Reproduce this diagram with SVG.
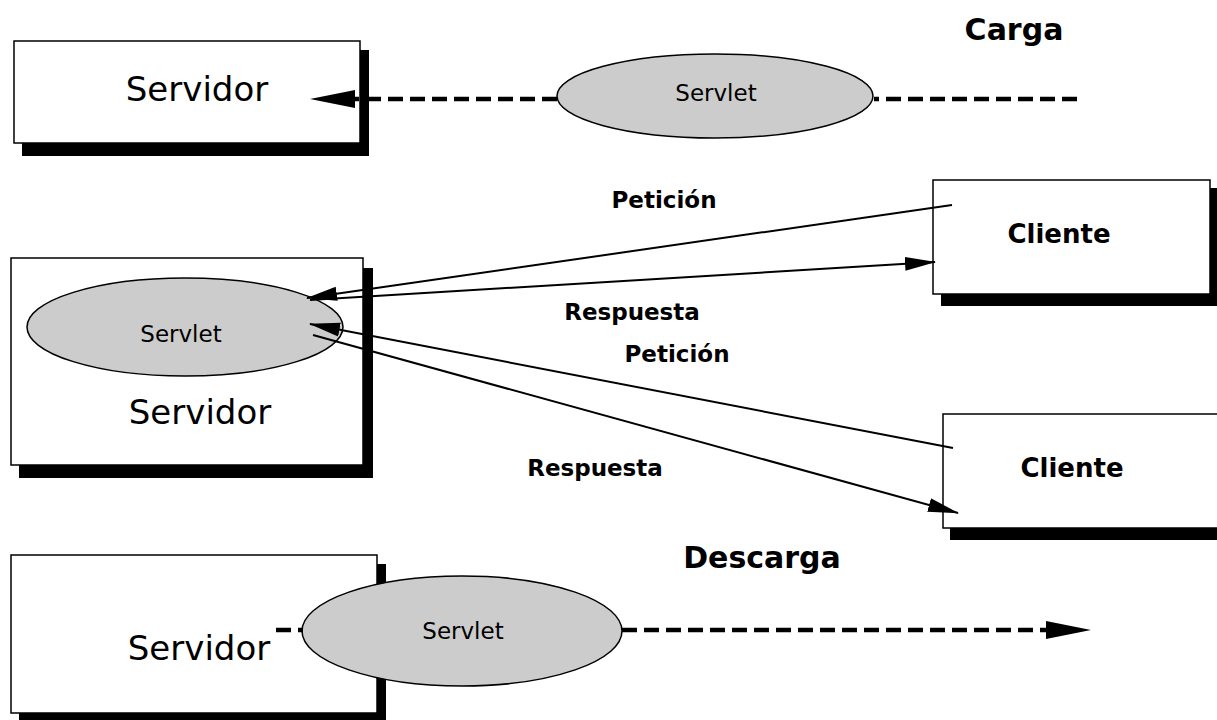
<svg xmlns="http://www.w3.org/2000/svg" width="1217" height="720" viewBox="0 0 1217 720">
<defs>
<style>
.box{fill:#fff;stroke:#000;stroke-width:1.5}
.shadow{fill:#000}
.ell{fill:#cccccc;stroke:#000;stroke-width:1.5}
.big{font-family:"DejaVu Sans","Liberation Sans",sans-serif;font-size:34px;text-anchor:middle;fill:#000}
.sv{font-family:"DejaVu Sans","Liberation Sans",sans-serif;font-size:23px;text-anchor:middle;fill:#000}
.lbl{font-family:"DejaVu Sans","Liberation Sans",sans-serif;font-weight:bold;font-size:23px;text-anchor:middle;fill:#000}
.cl{font-family:"DejaVu Sans","Liberation Sans",sans-serif;font-weight:bold;font-size:26px;text-anchor:middle;fill:#000}
.title{font-family:"DejaVu Sans","Liberation Sans",sans-serif;font-weight:bold;font-size:30px;text-anchor:middle;fill:#000}
.solid{stroke:#000;stroke-width:2;fill:none}
.dash{stroke:#000;stroke-width:4.5;fill:none;stroke-dasharray:15 7}
</style>
<marker id="ah" markerUnits="userSpaceOnUse" markerWidth="32" markerHeight="16" viewBox="0 -7 32 14" refX="30" refY="0" orient="auto">
<path d="M0,-7 L31,0 L0,7 z" fill="#000"/>
</marker>
<marker id="ahd" markerUnits="userSpaceOnUse" markerWidth="46" markerHeight="20" viewBox="0 -10 46 20" refX="0" refY="0" orient="auto">
<path d="M0,-9 L45,0 L0,9 z" fill="#000"/>
</marker>
</defs>
<rect width="1217" height="720" fill="#fff"/>

<g id="servidor-carga">
<rect class="shadow" x="22" y="50" width="347" height="106"/>
<rect class="box" x="14" y="41" width="346" height="102"/>
<text class="big" x="197" y="101">Servidor</text>
</g>

<g id="servidor-central">
<rect class="shadow" x="19" y="268" width="354" height="210"/>
<rect class="box" x="11" y="258" width="352" height="207"/>
<text class="big" x="200" y="424">Servidor</text>
</g>

<g id="servidor-descarga">
<rect class="shadow" x="19" y="564" width="367" height="160"/>
<rect class="box" x="11" y="555" width="366" height="158"/>
<text class="big" x="199" y="660">Servidor</text>
</g>

<g id="cliente-1">
<rect class="shadow" x="941" y="188" width="290" height="118"/>
<rect class="box" x="933" y="180" width="277" height="114"/>
<text class="cl" x="1059" y="243">Cliente</text>
</g>

<g id="cliente-2">
<rect class="shadow" x="950" y="423" width="280" height="117"/>
<rect class="box" x="943" y="414" width="290" height="114"/>
<text class="cl" x="1072" y="477">Cliente</text>
</g>

<g id="servlet-carga">
<ellipse class="ell" cx="715" cy="96" rx="158" ry="42"/>
<text class="sv" x="716" y="101">Servlet</text>
</g>

<g id="servlet-central">
<ellipse class="ell" cx="185" cy="327" rx="158" ry="49"/>
<text class="sv" x="181" y="342">Servlet</text>
</g>

<g id="servlet-descarga">
<ellipse class="ell" cx="462" cy="631" rx="160" ry="55"/>
<text class="sv" x="463" y="639">Servlet</text>
</g>

<g id="titulos">
<text class="title" x="1014" y="40">Carga</text>
<text class="title" x="762" y="568">Descarga</text>
</g>

<g id="connectors">
<path class="dash" d="M1077,99 L874,99"/>
<path class="dash" d="M557,99 L355,99" marker-end="url(#ahd)"/>
<path class="dash" d="M276,630 L303,630"/>
<path class="dash" d="M622,630 L1046,630" marker-end="url(#ahd)"/>
<path class="solid" d="M952,205 L307,298" marker-end="url(#ah)"/>
<path class="solid" d="M310,300 L935,262" marker-end="url(#ah)"/>
<path class="solid" d="M953,448 L310,324" marker-end="url(#ah)"/>
<path class="solid" d="M313,335 L958,513" marker-end="url(#ah)"/>
<text class="lbl" x="664" y="208">Petición</text>
<text class="lbl" x="632" y="320">Respuesta</text>
<text class="lbl" x="677" y="362">Petición</text>
<text class="lbl" x="595" y="476">Respuesta</text>
</g>
</svg>
